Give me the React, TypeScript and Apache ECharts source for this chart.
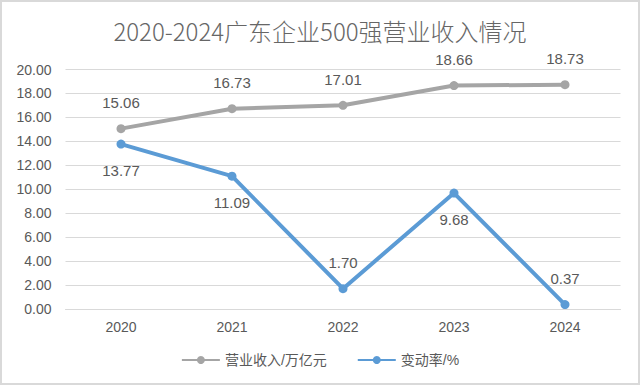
import React, { useEffect, useRef } from "react";
import * as echarts from "echarts";

const categories = ["2020", "2021", "2022", "2023", "2024"];
const revenue = [15.06, 16.73, 17.01, 18.66, 18.73];
const changeRate = [13.77, 11.09, 1.7, 9.68, 0.37];
const changeLabelPos = ["bottom", "bottom", "top", "bottom", "top"];
const titleText = "2020-2024广东企业500强营业收入情况";
const seriesNames = ["营业收入/万亿元", "变动率/%"];

const FONT = "'Liberation Sans', 'Noto Sans CJK SC', sans-serif";
const TXT = "#595959";

export default function App() {
  const ref = useRef<HTMLDivElement>(null);
  useEffect(() => {
    document.body.style.margin = "0";
    const chart = echarts.init(ref.current!, null, { renderer: "svg" });
    chart.setOption({
      animation: false,
      backgroundColor: "#fff",
      textStyle: { fontFamily: FONT },
      title: {
        text: titleText,
        left: "center",
        top: 11,
        textStyle: { color: "#666", fontSize: 24, fontWeight: 300, fontFamily: "'Noto Sans CJK SC', sans-serif" },
      },
      legend: {
        bottom: 11,
        left: "center",
        itemWidth: 38,
        itemHeight: 10,
        itemGap: 30,
        textStyle: { color: TXT, fontSize: 14, fontFamily: FONT },
        data: seriesNames,
      },
      grid: { left: 63.5, right: 17.5, top: 67.5, bottom: 74, containLabel: false },
      xAxis: {
        type: "category",
        data: categories,
        boundaryGap: true,
        axisLine: { lineStyle: { color: "#d9d9d9" } },
        axisTick: { show: false },
        axisLabel: { color: TXT, fontSize: 14, margin: 11 },
      },
      yAxis: {
        type: "value",
        min: 0,
        max: 20,
        interval: 2,
        axisLine: { show: false },
        axisTick: { show: false },
        splitLine: { lineStyle: { color: "#d9d9d9" } },
        axisLabel: {
          color: TXT,
          fontSize: 14,
          margin: 14,
          formatter: (v: number) => v.toFixed(2),
        },
      },
      series: [
        {
          name: seriesNames[0],
          type: "line",
          data: revenue,
          color: "#A5A5A5",
          lineStyle: { width: 4 },
          symbol: "circle",
          symbolSize: 9,
          label: {
            show: true,
            position: "top",
            distance: 14,
            color: TXT,
            fontSize: 15,
            formatter: (p: any) => p.value.toFixed(2),
          },
        },
        {
          name: seriesNames[1],
          type: "line",
          data: changeRate.map((v, i) => ({
            value: v,
            label: { position: changeLabelPos[i] },
          })),
          color: "#5B9BD5",
          lineStyle: { width: 4 },
          symbol: "circle",
          symbolSize: 9,
          label: {
            show: true,
            distance: 14,
            color: TXT,
            fontSize: 15,
            formatter: (p: any) => Number(p.value).toFixed(2),
          },
        },
      ],
    });
    return () => chart.dispose();
  }, []);
  return (
    <div
      style={{
        position: "absolute",
        left: 0,
        top: 0,
        width: 640,
        height: 385,
        boxSizing: "border-box",
        border: "2px solid #d9d9d9",
      }}
    >
      <div ref={ref} style={{ width: 636, height: 381 }} />
    </div>
  );
}
